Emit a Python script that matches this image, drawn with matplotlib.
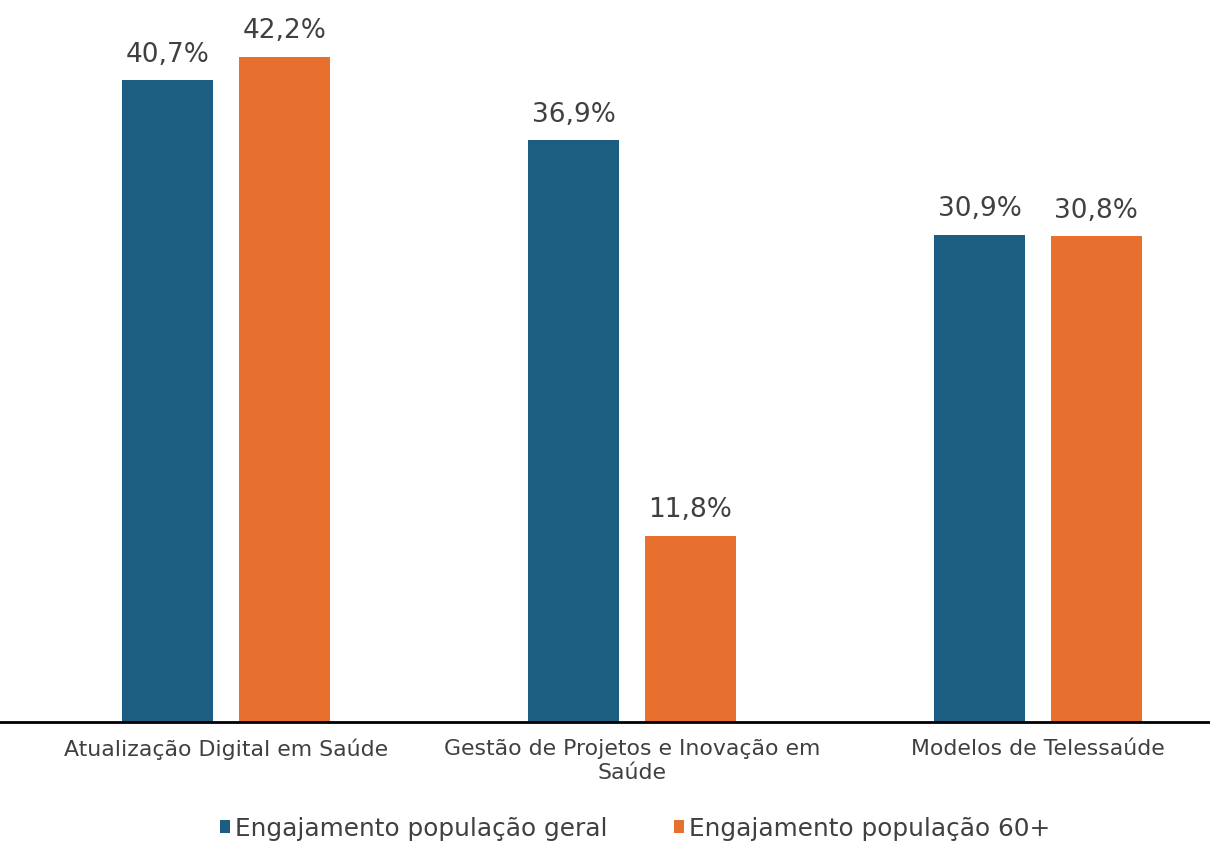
import matplotlib.pyplot as plt
import numpy as np

# dados
categorias = ["Atualização Digital em Saúde",
              "Gestão de Projetos e Inovação em\nSaúde",
              "Modelos de Telessaúde"]
geral = [40.7, 36.9, 30.9]
idosos = [42.2, 11.8, 30.8]
series = ["Engajamento população geral", "Engajamento população 60+"]

azul = "#1b5e82"
laranja = "#e8702f"
cinza = "#404040"

plt.rcParams['font.family'] = ['DejaVu Sans']

fig = plt.figure(figsize=(12.1, 8.42), dpi=100)
ax = fig.add_axes([0, 0.1425, 1, 0.8575])

x = np.arange(len(categorias))
w = 0.224
off = 0.144
b1 = ax.bar(x - off, geral, w, color=azul, label=series[0])
b2 = ax.bar(x + off, idosos, w, color=laranja, label=series[1])

# rótulos de valor
for bars in (b1, b2):
    for b in bars:
        v = b.get_height()
        ax.text(b.get_x() + b.get_width() / 2, v + 0.8,
                f"{v:.1f}%".replace(".", ","),
                ha="center", va="bottom", fontsize=19, color=cinza)

ax.set_xlim(-0.557, 2.424)
ax.set_ylim(0, 45.8)
ax.set_yticks([])
ax.set_xticks(x)
ax.set_xticklabels(categorias, fontsize=15.8, color=cinza, linespacing=1.3)
ax.tick_params(axis="x", length=0, pad=12)
for s in ["top", "right", "left"]:
    ax.spines[s].set_visible(False)
ax.spines["bottom"].set_linewidth(2)
ax.spines["bottom"].set_color("black")

fig.legend(handles=[b1, b2], labels=series, loc="center",
           bbox_to_anchor=(0.525, 0.016), ncol=2, frameon=False,
           fontsize=17.8, handlelength=0.42, handleheight=0.42,
           handletextpad=0.2, columnspacing=2.67, labelcolor=cinza)

fig.savefig("out.png", dpi=100)
